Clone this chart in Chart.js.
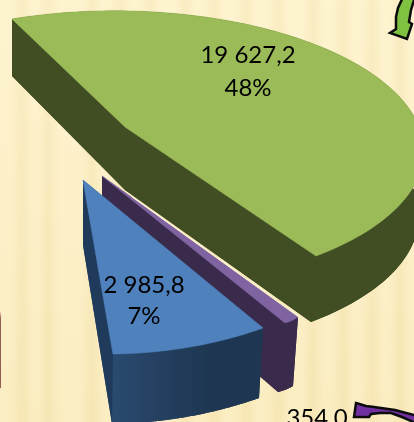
<!DOCTYPE html>
<html>
<head>
<meta charset="utf-8">
<style>
html,body{margin:0;padding:0;width:414px;height:422px;overflow:hidden;background:#fcefc6}
canvas{display:block;position:absolute;left:0;top:0}
#bg{position:absolute;left:0;top:0;width:414px;height:422px}
</style>
<script src="https://cdn.jsdelivr.net/npm/chart.js@4"></script>
</head>
<body>
<div id="bg"></div>
<canvas id="c" width="414" height="422"></canvas>
<script>
// ---- data ----
const categories = ['A', 'B', 'C', 'D'];
const sliceValues = [19627.2, 354.0, 2985.8, 17923.0];
const valueLabels = ['19 627,2', '354,0', '2 985,8', ''];
const percentLabels = ['48%', '', '7%', ''];

// ---- styling and layout ----
const topColors = ['#9bbb59', '#8064a2', '#4f81bd', '#c98a7c'];
const wallColors = ['#414d22', '#3a2a4c', '#1f3a5b', '#8a5a50'];
// projected frame of each slice: [centre, rim at start, rim at end, rim at middle] for top and bottom face
const frames = [
  {top:[[129.5,127.3],[12,19],[316,256],[364.8,69]], low:[[129.5,190],[12,76],[311,322],[364,134]],
   apexTop:[125,127], apexLow:[125,190]},
  {top:[[102,176],[298,317],[285,323],[292,320.5]], low:[[102,240],[293,386],[278,392],[286,389.5]]},
  {top:[[83,180],[263,328],[113,354],[190,347]], low:[[83,245],[259,398],[112,424],[186,417]]},
  {top:[[-30,160],[0.8,317],[-200,20],[-200,300]], low:[[-30,230],[0.8,388],[-200,90],[-200,370]]}
];
const paintOrder = [3, 0, 1, 2];
const labelSpots = [
  {x:248, y1:63, y2:96},
  {x:317, y1:426, y2:0},
  {x:144, y1:293, y2:324},
  null
];
const stripeCenters = [22,48,92,120,150,185,214,246,278,313,343,372,400];
const bright = '#fdf1c9', dark = '#f8e8b8';

let stops = ['#fdf1c9 0px'];
stripeCenters.forEach(c => {
  stops.push(bright + ' ' + (c-11) + 'px');
  stops.push(dark + ' ' + c + 'px');
  stops.push(bright + ' ' + (c+11) + 'px');
});
document.getElementById('bg').style.background =
  'linear-gradient(180deg,rgba(255,250,225,0.25),rgba(240,220,160,0.18)),linear-gradient(90deg,' + stops.join(',') + ')';

function solveHomography(src, dst) {
  const A = [];
  for (let i = 0; i < 4; i++) {
    const [x,y] = src[i], [u,v] = dst[i];
    A.push([x,y,1,0,0,0,-u*x,-u*y,u]);
    A.push([0,0,0,x,y,1,-v*x,-v*y,v]);
  }
  for (let c = 0; c < 8; c++) {
    let p = c;
    for (let r = c+1; r < 8; r++) if (Math.abs(A[r][c]) > Math.abs(A[p][c])) p = r;
    [A[c],A[p]] = [A[p],A[c]];
    for (let r = 0; r < 8; r++) {
      if (r === c) continue;
      const f = A[r][c] / A[c][c];
      for (let k = c; k < 9; k++) A[r][k] -= f * A[c][k];
    }
  }
  const h = A.map((row,i) => row[8]/row[i]);
  return ([x,y]) => {
    const w = h[6]*x + h[7]*y + 1;
    return [(h[0]*x + h[1]*y + h[2])/w, (h[3]*x + h[4]*y + h[5])/w];
  };
}

function facePath(ctx, pts) {
  ctx.beginPath();
  pts.forEach((p,i) => i ? ctx.lineTo(p[0],p[1]) : ctx.moveTo(p[0],p[1]));
  ctx.closePath();
}

function arrow(ctx, pts, fill) {
  ctx.save();
  facePath(ctx, pts);
  ctx.fillStyle = fill;
  ctx.fill();
  ctx.lineWidth = 2.5;
  ctx.lineJoin = 'miter';
  ctx.strokeStyle = '#0c0c0c';
  ctx.stroke();
  ctx.restore();
}

const projected3D = {
  id: 'projected3D',
  beforeDatasetsDraw(chart) {
    const ctx = chart.ctx;
    const arcs = chart.getDatasetMeta(0).data;
    ctx.save();
    paintOrder.forEach(i => {
      const arc = arcs[i];
      const a0 = arc.startAngle, a1 = arc.endAngle, am = (a0+a1)/2;
      const unit = a => [Math.cos(a), Math.sin(a)];
      const src = [[0,0], unit(a0), unit(a1), unit(am)];
      const T = solveHomography(src, frames[i].top);
      const L = solveHomography(src, frames[i].low);
      const n = 120, rimT = [], rimL = [];
      for (let k = 0; k <= n; k++) {
        const u = unit(a0 + (a1-a0)*k/n);
        rimT.push(T(u)); rimL.push(L(u));
      }
      const apexT = frames[i].apexTop || T([0,0]), apexL = frames[i].apexLow || L([0,0]);
      let wall = wallColors[i];
      if (i === 2) {
        wall = ctx.createLinearGradient(112,0,210,0);
        wall.addColorStop(0,'#2a4a70');
        wall.addColorStop(1,'#1e3651');
      }
      ctx.fillStyle = wall;
      const faces = [
        [apexL].concat(rimL),
        [apexT, rimT[0], rimL[0], apexL],
        rimT.concat(rimL.slice().reverse())
      ];
      faces.forEach(f => { facePath(ctx,f); ctx.fill(); });
      ctx.fillStyle = wallColors[i];
      facePath(ctx, [apexT, rimT[n], rimL[n], apexL]); ctx.fill();
      ctx.fillStyle = topColors[i];
      ctx.strokeStyle = topColors[i];
      ctx.lineWidth = 0.6;
      facePath(ctx, [apexT].concat(rimT)); ctx.fill(); ctx.stroke();
      if (i === 1) {
        ctx.strokeStyle = 'rgba(255,244,214,0.85)';
        ctx.lineWidth = 1;
        ctx.beginPath();
        ctx.moveTo(apexT[0]+30, apexT[1]+21);
        ctx.lineTo(rimT[0][0], rimT[0][1]-0.5);
        ctx.stroke();
      }
    });
    ctx.restore();
    return false;
  },
  afterDraw(chart) {
    const ctx = chart.ctx;
    arrow(ctx, [[403,-3],[398,8],[396,17],[396,29],[390,33],[407,39],[412,24],[409,22],[411,10],[415,-3]], '#7fc241');
    arrow(ctx, [[356,403],[366,406],[374,407],[395,410],[418,416],[418,424],[402,417],[391,413],[380,413],[371,414],[369,417],[354,417]], '#7030a0');
    ctx.save();
    ctx.fillStyle = '#000';
    ctx.font = '24px Lato, "Open Sans", sans-serif';
    ctx.textAlign = 'center';
    ctx.textBaseline = 'alphabetic';
    labelSpots.forEach((s,i) => {
      if (!s) return;
      ctx.fillText(valueLabels[i], s.x, s.y1);
      if (percentLabels[i]) ctx.fillText(percentLabels[i], s.x, s.y2);
    });
    ctx.restore();
  }
};

new Chart(document.getElementById('c'), {
  type: 'pie',
  data: { labels: categories, datasets: [{ data: sliceValues, backgroundColor: topColors, borderWidth: 0 }] },
  options: {
    responsive: false,
    animation: false,
    layout: { padding: 0 },
    plugins: { legend: { display: false }, tooltip: { enabled: false } }
  },
  plugins: [projected3D]
});
</script>
</body>
</html>
